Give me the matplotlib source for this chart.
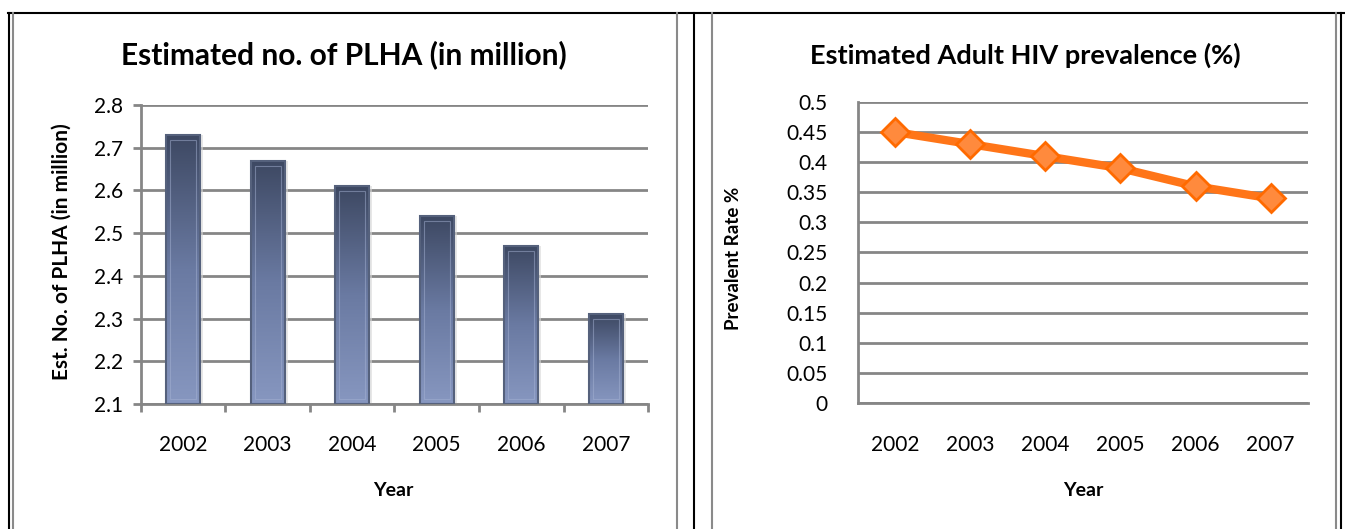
import numpy as np
import matplotlib.pyplot as plt
from matplotlib.lines import Line2D
from matplotlib.patches import Rectangle
from matplotlib.colors import LinearSegmentedColormap

# chart values
years = ['2002', '2003', '2004', '2005', '2006', '2007']
plha_million = [2.73, 2.67, 2.61, 2.54, 2.47, 2.31]
hiv_prevalence = [0.45, 0.43, 0.41, 0.39, 0.36, 0.34]

plt.rcParams['font.family'] = ['Lato', 'DejaVu Sans']
grid_col = '#868686'

fig = plt.figure(figsize=(13.45, 5.29), dpi=100)

# ---- left: bar chart ----
ax1 = fig.add_axes([0.1048, 0.2363, 0.3770, 0.5652])
x = np.arange(len(years))
bars = ax1.bar(x, [v - 2.1 for v in plha_million], bottom=2.1, width=0.40,
               color='none', edgecolor='none', zorder=3)
grad = np.linspace(0, 1, 256).reshape(-1, 1)
bar_cmap = LinearSegmentedColormap.from_list('bar', ['#8797c0', '#6a7aa2', '#3d4862'])
for b in bars:
    x0, y0 = b.get_x(), b.get_y()
    w, h = b.get_width(), b.get_height()
    # soft shadow
    ax1.add_patch(Rectangle((x0 + w * 0.03, y0), w * 1.06, h, color='#d8d8d8',
                            alpha=0.6, zorder=2, linewidth=0))
    im = ax1.imshow(grad, extent=[x0, x0 + w, y0, y0 + h], origin='lower',
                    cmap=bar_cmap, aspect='auto', zorder=3)
    im.set_clip_path(b)
    ax1.add_patch(Rectangle((x0, y0), w, h, fill=False, edgecolor='#55617c',
                            linewidth=1.5, zorder=4))
    ax1.add_patch(Rectangle((x0 + w * 0.12, y0 + 0.012), w * 0.76, h - 0.024,
                            fill=False, edgecolor='#a4b1d2', linewidth=0.8,
                            alpha=0.5, zorder=4))
ax1.set_xlim(-0.5, len(years) - 0.5)
ax1.set_ylim(2.1, 2.8)
ax1.set_yticks(np.arange(2.1, 2.81, 0.1))
ax1.set_yticklabels(['%.1f' % v for v in np.arange(2.1, 2.81, 0.1)])
ax1.set_xticks(x)
ax1.set_xticklabels(years)
ax1.set_xticks(np.arange(-0.5, len(years), 1), minor=True)
ax1.tick_params(axis='x', which='major', length=0, pad=22, labelsize=15)
ax1.tick_params(axis='x', which='minor', length=6, width=2, color=grid_col)
ax1.tick_params(axis='y', length=6, width=2, color=grid_col, pad=7, labelsize=15)
ax1.grid(axis='y', color=grid_col, linewidth=2, zorder=0)
ax1.set_axisbelow(True)
for s in ['top', 'right']:
    ax1.spines[s].set_visible(False)
for s in ['left', 'bottom']:
    ax1.spines[s].set_color(grid_col)
    ax1.spines[s].set_linewidth(2)

# ---- right: line chart ----
ax2 = fig.add_axes([0.6379, 0.2382, 0.3346, 0.5690])
ax2.plot(x, hiv_prevalence, color='#ff7518', linewidth=6, marker='D',
         markersize=14, markerfacecolor='#ff8a3d', markeredgecolor='#ff6a00',
         markeredgewidth=2, zorder=3, clip_on=False)
ax2.set_xlim(-0.5, len(years) - 0.5)
ax2.set_ylim(0, 0.5)
yt = np.arange(0, 0.501, 0.05)
ax2.set_yticks(yt)
ax2.set_yticklabels(['0'] + ['%g' % round(v, 2) for v in yt[1:]])
ax2.set_xticks(x)
ax2.set_xticklabels(years)
ax2.tick_params(axis='x', length=0, pad=23, labelsize=15)
ax2.tick_params(axis='y', length=0, pad=22, labelsize=15)
ax2.grid(axis='y', color=grid_col, linewidth=2, zorder=0)
ax2.set_axisbelow(True)
for s in ['top', 'right']:
    ax2.spines[s].set_visible(False)
for s in ['left', 'bottom']:
    ax2.spines[s].set_color(grid_col)
    ax2.spines[s].set_linewidth(2)

# titles and axis labels
W, H = 1345, 529
fig.text(344 / W, 1 - 55 / H, 'Estimated no. of PLHA (in million)', ha='center',
         va='center', fontsize=21.5, fontweight='bold')
fig.text(1025 / W, 1 - 55 / H, 'Estimated Adult HIV prevalence (%)', ha='center',
         va='center', fontsize=19.5, fontweight='bold')
fig.text(393 / W, 1 - 490 / H, 'Year', ha='center', va='center',
         fontsize=14, fontweight='bold')
fig.text(1083 / W, 1 - 490 / H, 'Year', ha='center', va='center',
         fontsize=14, fontweight='bold')
fig.text(62 / W, 1 - 252 / H, 'Est. No. of PLHA (in million)', ha='center',
         va='center', rotation=90, fontsize=15, fontweight='bold')
fig.text(733 / W, 1 - 258 / H, 'Prevalent Rate %', ha='center', va='center',
         rotation=90, fontsize=13.5, fontweight='bold')

# table cell borders
def vline(px, col, lw):
    fig.add_artist(Line2D([px / W, px / W], [0, 1 - 13 / H], color=col,
                          linewidth=lw, transform=fig.transFigure))

fig.add_artist(Line2D([8 / W, 1], [1 - 13 / H, 1 - 13 / H], color='black',
                      linewidth=1.5, transform=fig.transFigure))
vline(9, 'black', 1.5)
vline(13, '#8a8a8a', 1.5)
vline(677, '#8a8a8a', 1.5)
vline(694, 'black', 1.5)
vline(712, '#8a8a8a', 1.5)
vline(1336, '#8a8a8a', 1.5)
vline(1341, 'black', 1.5)

fig.savefig('out.png', dpi=100)
